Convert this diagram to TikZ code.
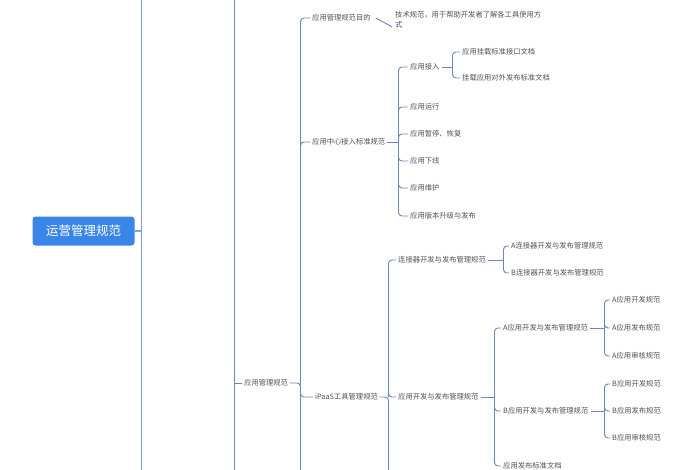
\documentclass[tikz,border=0pt]{standalone}
\usepackage{fontspec}
\setmainfont{Noto Sans CJK SC}
\usetikzlibrary{positioning}
\definecolor{rootblue}{HTML}{3A86E8}
\definecolor{trunkblue}{HTML}{7AA3E6}
\definecolor{branchblue}{HTML}{6F86B8}
\definecolor{leafgray}{HTML}{505058}
\begin{document}
\begin{tikzpicture}[x=1pt, y=-1pt,
  root/.style={fill=rootblue, text=white, rounded corners=3pt, minimum width=102pt, minimum height=29pt, font=\fontsize{12.5}{14}\selectfont},
  leaf/.style={anchor=west, inner sep=2pt, text=leafgray, font=\fontsize{7.3}{9.5}\selectfont},
  br/.style={draw=branchblue, line width=0.9pt, rounded corners=3.5pt},
  trunk/.style={draw=trunkblue, line width=1.1pt}]
\useasboundingbox (0,0) rectangle (700,470);
\node[root] (yy) at (83.5,231) {运营管理规范};
\coordinate (t1top) at (141.5,0); \coordinate (t1bot) at (141.5,470);
\coordinate (t2top) at (234,0); \coordinate (t2bot) at (234,470);
\draw[trunk] (t1top) -- (t1bot);
\draw[trunk] (yy.east) -- (yy.east -| t1top);
\draw[br] (t2top) -- (t2bot);
\node[leaf] (gl) at (242,383) {应用管理规范};
\draw[br] (gl.west -| t2top) -- (gl.west);
\coordinate (jgl) at (300.5,383); \coordinate (jglbot) at (300.5,470);
\node[leaf] (md) at (310,18) {应用管理规范目的};
\node[leaf] (jr) at (310,142) {应用中心接入标准规范};
\node[leaf] (ip) at (313,397) {iPaaS工具管理规范};
\draw[br] (gl.east) -- (jgl) -- (jglbot);
\foreach \c in {md, jr, ip} \draw[br] (jgl) |- (\c.west);
\node[leaf, align=left, anchor=north west] (js) at (393,9.5) {技术规范，用于帮助开发者了解各工具使用方\\式};
\draw[br] ([xshift=3pt]md.east) -- ([xshift=-1pt,yshift=-7pt]js.west);
\coordinate (jjr) at (398.5,142);
\node[leaf] (jr1) at (408,67) {应用接入};
\node[leaf] (jr2) at (408,107) {应用运行};
\node[leaf] (jr3) at (408,134) {应用暂停、恢复};
\node[leaf] (jr4) at (408,161) {应用下线};
\node[leaf] (jr5) at (408,188) {应用维护};
\node[leaf] (jr6) at (408,216) {应用版本升级与发布};
\draw[br] (jr.east) -- (jjr);
\foreach \c in {jr1, jr2, jr3, jr4, jr5, jr6} \draw[br] (jjr) |- (\c.west);
\coordinate (jjr1) at (452.5,67);
\node[leaf] (jr11) at (460,52) {应用挂载标准接口文档};
\node[leaf] (jr12) at (460,78) {挂载应用对外发布标准文档};
\draw[br] (jr1.east) -- (jjr1);
\foreach \c in {jr11, jr12} \draw[br] (jjr1) |- (\c.west);
\coordinate (jip) at (388.5,397); \coordinate (jipbot) at (388.5,470);
\node[leaf] (lj) at (396,260) {连接器开发与发布管理规范};
\node[leaf] (yk) at (396,397) {应用开发与发布管理规范};
\draw[br] (ip.east) -- (jip) -- (jipbot);
\foreach \c in {lj, yk} \draw[br] (jip) |- (\c.west);
\coordinate (jlj) at (503.5,260);
\node[leaf] (ljA) at (509,246) {A连接器开发与发布管理规范};
\node[leaf] (ljB) at (509,273) {B连接器开发与发布管理规范};
\draw[br] (lj.east) -- (jlj);
\foreach \c in {ljA, ljB} \draw[br] (jlj) |- (\c.west);
\coordinate (jyk) at (494.5,397);
\node[leaf] (ykA) at (501,328) {A应用开发与发布管理规范};
\node[leaf] (ykB) at (501,411) {B应用开发与发布管理规范};
\node[leaf] (ykC) at (501,466) {应用发布标准文档};
\draw[br] (yk.east) -- (jyk);
\foreach \c in {ykA, ykB, ykC} \draw[br] (jyk) |- (\c.west);
\coordinate (jykA) at (604.5,328);
\node[leaf] (ykA1) at (610,300) {A应用开发规范};
\node[leaf] (ykA2) at (610,328) {A应用发布规范};
\node[leaf] (ykA3) at (610,356) {A应用审核规范};
\draw[br] (ykA.east) -- (jykA);
\foreach \c in {ykA1, ykA2, ykA3} \draw[br] (jykA) |- (\c.west);
\coordinate (jykB) at (604.5,411);
\node[leaf] (ykB1) at (610,384) {B应用开发规范};
\node[leaf] (ykB2) at (610,411) {B应用发布规范};
\node[leaf] (ykB3) at (610,438) {B应用审核规范};
\draw[br] (ykB.east) -- (jykB);
\foreach \c in {ykB1, ykB2, ykB3} \draw[br] (jykB) |- (\c.west);
\end{tikzpicture}
\end{document}
